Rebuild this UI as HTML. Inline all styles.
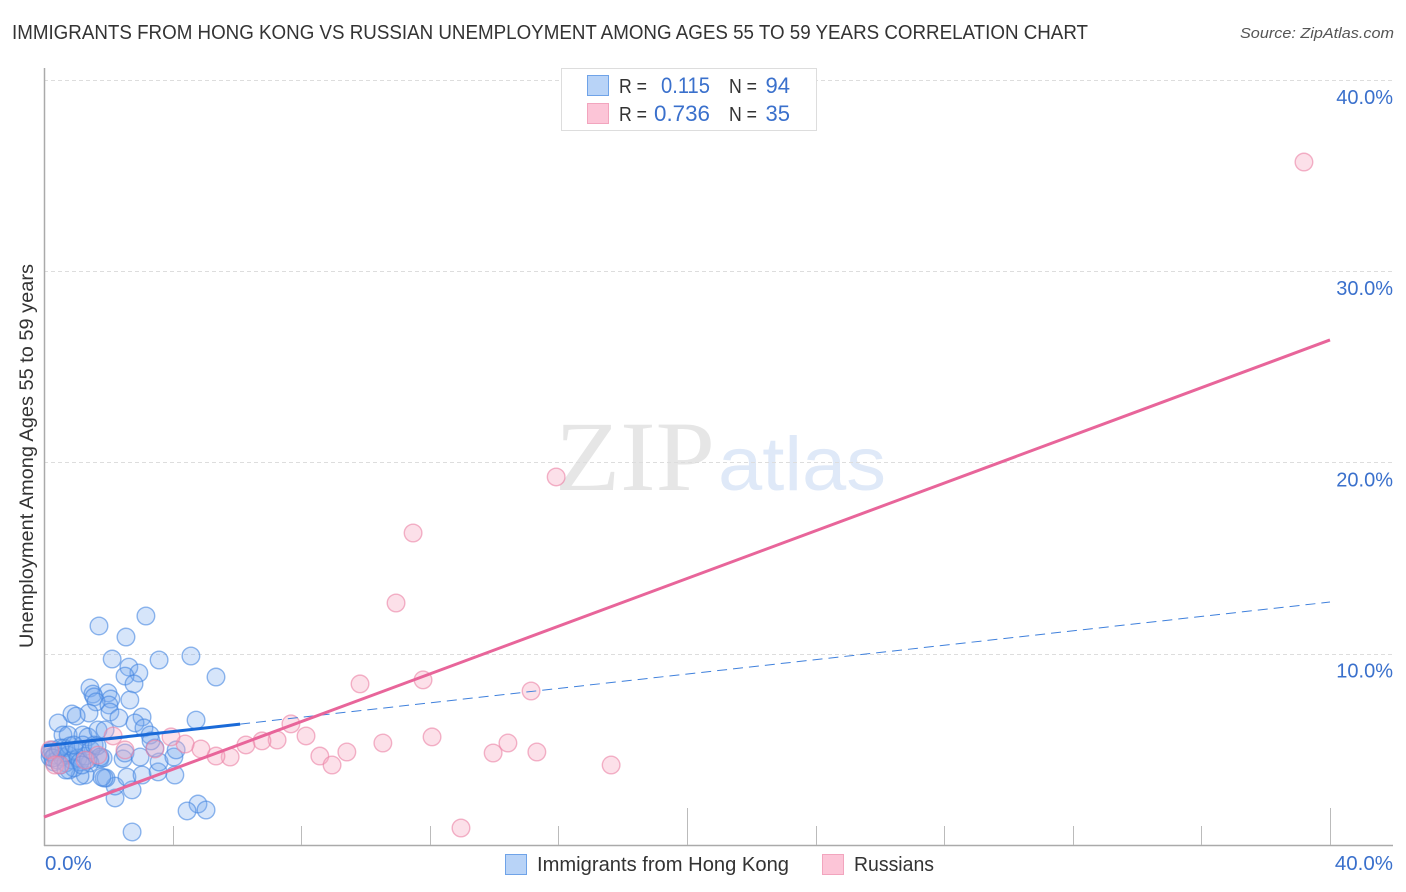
<!DOCTYPE html>
<html>
<head>
<meta charset="utf-8">
<style>
html,body{margin:0;padding:0;background:#fff;width:1406px;height:892px;overflow:hidden}
svg{display:block;font-family:"Liberation Sans",sans-serif}
</style>
</head>
<body>
<svg id="chart" width="1406" height="892" viewBox="0 0 1406 892" xmlns="http://www.w3.org/2000/svg">
  <text x="12" y="39" font-size="20" fill="#333" textLength="1076" lengthAdjust="spacingAndGlyphs">IMMIGRANTS FROM HONG KONG VS RUSSIAN UNEMPLOYMENT AMONG AGES 55 TO 59 YEARS CORRELATION CHART</text>
  <text x="1394" y="38" font-size="15" font-style="italic" fill="#555" text-anchor="end" textLength="154" lengthAdjust="spacingAndGlyphs">Source: ZipAtlas.com</text>

  <g>
    <text x="555" y="490" font-family="Liberation Serif" font-size="100" fill="#e6e6e6" textLength="160" lengthAdjust="spacingAndGlyphs">ZIP</text>
    <text x="718" y="490" font-size="76" fill="#dfe9f8" textLength="168" lengthAdjust="spacingAndGlyphs">atlas</text>
  </g>

  <g id="grid"></g>
  <g id="axes"></g>
  <g id="blue-points"></g>
  <g id="pink-points"></g>
  <g id="trends"></g>
  <g id="labels"></g>

  <text transform="translate(33,456) rotate(-90)" font-size="19" fill="#333" text-anchor="middle" textLength="384" lengthAdjust="spacingAndGlyphs">Unemployment Among Ages 55 to 59 years</text>

  <g>
    <rect x="561.5" y="68.5" width="255" height="62" fill="#fff" stroke="#ddd"/>
    <rect x="587.5" y="75.5" width="21" height="20" fill="#b8d3f7" stroke="#6fa3e8"/>
    <rect x="587.5" y="103.5" width="21" height="20" fill="#fcc5d7" stroke="#f2a5be"/>
    <text x="619" y="93" font-size="20" fill="#333" textLength="28" lengthAdjust="spacingAndGlyphs">R =</text>
    <text x="710" y="93" font-size="22" fill="#3a70cc" text-anchor="end" textLength="49" lengthAdjust="spacingAndGlyphs">0.115</text>
    <text x="729" y="93" font-size="20" fill="#333" textLength="28" lengthAdjust="spacingAndGlyphs">N =</text>
    <text x="790" y="93" font-size="22" fill="#3a70cc" text-anchor="end">94</text>
    <text x="619" y="121" font-size="20" fill="#333" textLength="28" lengthAdjust="spacingAndGlyphs">R =</text>
    <text x="710" y="121" font-size="22" fill="#3a70cc" text-anchor="end" textLength="56" lengthAdjust="spacingAndGlyphs">0.736</text>
    <text x="729" y="121" font-size="20" fill="#333" textLength="28" lengthAdjust="spacingAndGlyphs">N =</text>
    <text x="790" y="121" font-size="22" fill="#3a70cc" text-anchor="end">35</text>
  </g>

  <g>
    <rect x="505.5" y="854.5" width="21" height="20" fill="#b8d3f7" stroke="#6fa3e8"/>
    <text x="537" y="871" font-size="20" fill="#333" textLength="252" lengthAdjust="spacingAndGlyphs">Immigrants from Hong Kong</text>
    <rect x="822.5" y="854.5" width="21" height="20" fill="#fcc5d7" stroke="#f2a5be"/>
    <text x="854" y="871" font-size="20" fill="#333" textLength="80" lengthAdjust="spacingAndGlyphs">Russians</text>
  </g>
</svg>
<script>
const blueX = [3.17,1.71,2.55,2.12,3.58,4.57,5.35,2.64,2.95,2.52,2.80,1.43,1.52,1.56,1.99,2.08,1.62,2.67,2.02,2.05,1.40,0.87,1.00,2.33,3.05,4.73,0.44,2.83,3.11,2.74,4.79,4.45,5.04,2.21,2.74,2.21,2.58,3.05,4.07,3.55,1.93,1.87,1.80,1.28,1.12,0.78,3.58,4.04,4.11,2.46,2.52,2.99,3.45,3.30,3.33,1.74,1.84,1.43,0.59,0.75,1.21,1.37,1.68,1.90,0.19,0.25,0.31,0.34,0.40,0.44,0.50,0.56,0.62,0.68,0.75,0.81,0.87,0.93,1.00,1.06,1.12,1.21,1.28,1.37,1.46,1.56,1.65,0.19,0.28,0.50,0.68,0.93,1.18,1.74];
const blueY = [11.97,11.45,10.87,9.72,9.67,9.88,8.78,9.30,8.99,8.83,8.42,8.21,7.89,7.74,7.95,7.63,7.48,7.58,7.32,6.95,6.90,6.85,6.74,6.64,6.69,6.53,6.38,6.38,6.12,0.68,2.14,1.78,1.83,2.46,2.88,3.08,3.55,3.66,3.66,3.82,3.50,3.50,3.55,3.66,3.61,3.92,4.34,4.60,4.97,4.50,4.81,4.60,5.07,5.75,5.44,4.50,4.55,4.29,5.75,5.75,5.75,5.65,6.01,6.01,4.60,4.97,4.34,4.70,4.44,4.86,4.18,4.60,5.07,4.29,4.70,5.18,4.44,4.03,4.86,4.55,4.34,5.23,4.65,4.44,4.97,5.23,5.18,4.86,4.55,5.07,3.92,5.23,4.18,4.60];
const pinkX = [39.19,15.93,11.48,10.95,9.83,11.79,15.15,7.68,8.15,12.07,10.54,14.43,9.42,13.97,15.33,8.58,8.96,17.64,12.97,7.25,6.78,6.28,5.79,5.35,4.88,4.39,3.95,2.15,3.45,2.52,0.19,0.34,0.50,1.28,1.68];
const pinkY = [35.70,19.24,16.31,12.65,8.42,8.63,8.05,6.33,5.70,5.65,5.33,5.33,4.86,4.81,4.86,4.65,4.18,4.18,0.89,5.49,5.44,5.23,4.60,4.65,5.02,5.28,5.65,5.70,5.02,4.97,4.97,4.18,4.18,4.44,4.70];
const yTickValues = [10,20,30,40];
const yTickLabels = ["10.0%","20.0%","30.0%","40.0%"];
const xMinorTickValues = [4,8,12,16,24,28,32,36];
const xMajorTickValues = [20,40];
const xEndValues = [0,40];
const xEndLabels = ["0.0%","40.0%"];
const blueTrendX = [0,6.1,40];
const blueTrendY = [5.18,6.32,12.7];
const pinkTrendX = [0,40];
const pinkTrendY = [1.46,26.4];

const NS = 'http://www.w3.org/2000/svg';
function xScale(v){ return 44 + v * 32.15; }
function yScale(v){ return 845 - v * 19.13; }
function make(tag, attrs, parent){
  const el = document.createElementNS(NS, tag);
  for (const k in attrs) el.setAttribute(k, attrs[k]);
  parent.appendChild(el);
  return el;
}
const grid = document.getElementById('grid');
const axes = document.getElementById('axes');
const labels = document.getElementById('labels');
const bluePts = document.getElementById('blue-points');
const pinkPts = document.getElementById('pink-points');
const trends = document.getElementById('trends');

yTickValues.forEach(function(v, i){
  const y = Math.round(yScale(v)) + 0.5;
  const g = make('line', {x1:44, x2:1393, y1:y, y2:y, stroke:'#ddd', 'stroke-dasharray':'4 3'}, grid);
  
  
  const t = make('text', {x:1393, y:yScale(v)+24, 'font-size':20, fill:'#3a70cc', 'text-anchor':'end'}, labels);
  t.textContent = yTickLabels[i];
  
  
});

const yAxis = make('line', {x1:44.5, x2:44.5, y1:68, y2:846, stroke:'#aaa', 'stroke-width':1.5}, axes);


const xAxis = make('line', {x1:44, x2:1393, y1:845.5, y2:845.5, stroke:'#aaa', 'stroke-width':1.5}, axes);


xMinorTickValues.forEach(function(v){
  const x = Math.round(xScale(v)) + 0.5;
  const t = make('line', {x1:x, x2:x, y1:826, y2:845, stroke:'#bbb'}, axes);
  
  
});
xMajorTickValues.forEach(function(v){
  const x = Math.round(xScale(v)) + 0.5;
  const t = make('line', {x1:x, x2:x, y1:808, y2:845, stroke:'#bbb'}, axes);
  
  
});
xEndValues.forEach(function(v, i){
  const t = make('text', {x: i === 0 ? xScale(v) + 1 : xScale(v) + 63, y:870, 'font-size':20.5, fill:'#3a70cc', 'text-anchor': i === 0 ? 'start' : 'end'}, labels);
  t.textContent = xEndLabels[i];
  
  
});

blueX.forEach(function(v, i){
  const c = make('circle', {cx:xScale(v), cy:yScale(blueY[i]), r:8.8, fill:'rgba(120,170,240,0.3)', stroke:'rgba(70,135,225,0.6)', 'stroke-width':1.4}, bluePts);
  
  
});
pinkX.forEach(function(v, i){
  const c = make('circle', {cx:xScale(v), cy:yScale(pinkY[i]), r:8.8, fill:'rgba(248,170,195,0.36)', stroke:'rgba(235,130,165,0.6)', 'stroke-width':1.4}, pinkPts);
  
  
});

const blueSolid = make('line', {x1:xScale(blueTrendX[0]), y1:yScale(blueTrendY[0]), x2:xScale(blueTrendX[1]), y2:yScale(blueTrendY[1]), stroke:'#1a6ad8', 'stroke-width':3}, trends);


const blueDash = make('line', {x1:xScale(blueTrendX[1]), y1:yScale(blueTrendY[1]), x2:xScale(blueTrendX[2]), y2:yScale(blueTrendY[2]), stroke:'#3f80dc', 'stroke-width':1, 'stroke-dasharray':'10 6'}, trends);


const pinkLine = make('line', {x1:xScale(pinkTrendX[0]), y1:yScale(pinkTrendY[0]), x2:xScale(pinkTrendX[1]), y2:yScale(pinkTrendY[1]), stroke:'#e8659a', 'stroke-width':3}, trends);


</script>
</body>
</html>
